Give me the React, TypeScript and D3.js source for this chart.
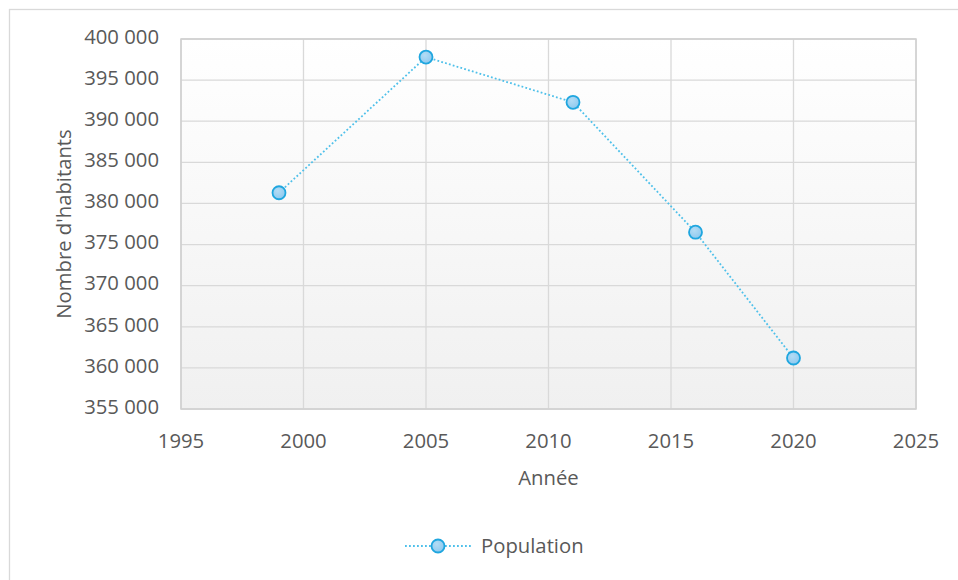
import React from "react";
import * as d3 from "d3";

const years = [1999, 2005, 2011, 2016, 2020];
const population = [381300, 397800, 392300, 376500, 361200];
const xTicks = [1995, 2000, 2005, 2010, 2015, 2020, 2025];
const yTicks = [355000, 360000, 365000, 370000, 375000, 380000, 385000, 390000, 395000, 400000];
const seriesName = "Population";
const xTitle = "Année";
const yTitle = "Nombre d'habitants";

const W = 958;
const H = 580;
const plot = { left: 181, right: 916, top: 39, bottom: 409 };
const FONT = "'Open Sans', 'Segoe UI', sans-serif";
const FS = 20.3;
const TEXT = "#595959";
const GRID = "#d9d9d9";
const LINE = "#4ec0ea";
const MARK_STROKE = "#1fa6df";

const fmt = (v: number) => d3.format(",")(v).replace(/,/g, " ");

export default function App() {
  const x = d3.scaleLinear().domain([1995, 2025]).range([plot.left, plot.right]);
  const y = d3.scaleLinear().domain([355000, 400000]).range([plot.bottom, plot.top]);
  const line = d3
    .line<number>()
    .x((_, i) => x(years[i]))
    .y((d) => y(d));

  return (
    <svg
      width={W}
      height={H}
      style={{ position: "absolute", left: 0, top: 0, background: "#fff" }}
      fontFamily={FONT}
    >
      <defs>
        <linearGradient id="bg" x1="0" y1="0" x2="0" y2="1">
          <stop offset="0" stopColor="#ffffff" />
          <stop offset="1" stopColor="#f0f0f0" />
        </linearGradient>
        <radialGradient id="mk" cx="0.4" cy="0.35" r="0.7">
          <stop offset="0" stopColor="#b3dcf5" />
          <stop offset="1" stopColor="#8cc8ee" />
        </radialGradient>
      </defs>
      <rect x={9.5} y={9.5} width={W} height={H} fill="#fff" stroke={GRID} strokeWidth={1.3} />
      <rect
        x={plot.left}
        y={plot.top}
        width={plot.right - plot.left}
        height={plot.bottom - plot.top}
        fill="url(#bg)"
      />
      {yTicks.map((t) => (
        <line key={"gy" + t} x1={plot.left} x2={plot.right} y1={y(t)} y2={y(t)} stroke={GRID} strokeWidth={1.3} />
      ))}
      {xTicks.map((t) => (
        <line key={"gx" + t} x1={x(t)} x2={x(t)} y1={plot.top} y2={plot.bottom} stroke={GRID} strokeWidth={1.3} />
      ))}
      <rect
        x={plot.left}
        y={plot.top}
        width={plot.right - plot.left}
        height={plot.bottom - plot.top}
        fill="none"
        stroke="#d0d0d0"
        strokeWidth={1.5}
      />
      {yTicks.map((t) => (
        <text key={"ly" + t} x={159} y={y(t) + 4.8} textAnchor="end" fontSize={FS} fill={TEXT}>
          {fmt(t)}
        </text>
      ))}
      {xTicks.map((t) => (
        <text key={"lx" + t} x={x(t)} y={448} textAnchor="middle" fontSize={FS} fill={TEXT}>
          {t}
        </text>
      ))}
      <text x={(plot.left + plot.right) / 2} y={485} textAnchor="middle" fontSize={FS} fill={TEXT}>
        {xTitle}
      </text>
      <text
        transform={`translate(71, ${(plot.top + plot.bottom) / 2}) rotate(-90)`}
        textAnchor="middle"
        fontSize={FS}
        fill={TEXT}
      >
        {yTitle}
      </text>
      <path
        d={line(population) || ""}
        fill="none"
        stroke={LINE}
        strokeWidth={1.8}
        strokeDasharray="1.8 2.2"
      />
      {population.map((v, i) => (
        <circle
          key={"m" + i}
          cx={x(years[i])}
          cy={y(v)}
          r={6.5}
          fill="url(#mk)"
          stroke={MARK_STROKE}
          strokeWidth={1.8}
        />
      ))}
      <g>
        <line x1={405} x2={472} y1={546} y2={546} stroke={LINE} strokeWidth={1.8} strokeDasharray="1.8 2.2" />
        <circle cx={438} cy={546} r={6.5} fill="url(#mk)" stroke={MARK_STROKE} strokeWidth={1.8} />
        <text x={481} y={553} fontSize={FS} fill={TEXT}>
          {seriesName}
        </text>
      </g>
    </svg>
  );
}
